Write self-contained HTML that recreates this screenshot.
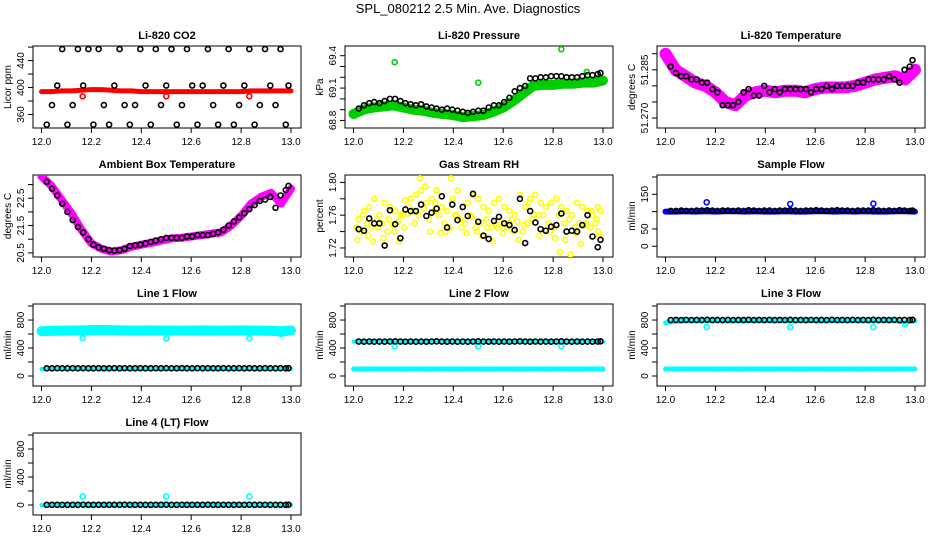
<!DOCTYPE html>
<html><head><meta charset="utf-8"><style>
html,body{margin:0;padding:0;background:#fff;}
svg{display:block;font-family:"Liberation Sans",Arial,sans-serif;}
</style></head><body>
<svg id="chart" width="936" height="540" viewBox="0 0 936 540" xmlns="http://www.w3.org/2000/svg">
<rect width="936" height="540" fill="#fff"/>
<text x="468" y="13" text-anchor="middle" font-size="13">SPL_080212  2.5 Min. Ave. Diagnostics</text>
</svg>
<script>
const T48=[12.021,12.042,12.063,12.083,12.104,12.125,12.146,12.167,12.188,12.208,12.229,12.25,12.271,12.292,12.313,12.333,12.354,12.375,12.396,12.417,12.438,12.458,12.479,12.5,12.521,12.542,12.563,12.583,12.604,12.625,12.646,12.667,12.688,12.708,12.729,12.75,12.771,12.792,12.813,12.833,12.854,12.875,12.896,12.917,12.938,12.958,12.979,12.99];
const T26=[12.00,12.04,12.08,12.12,12.16,12.20,12.24,12.28,12.32,12.36,12.40,12.44,12.48,12.52,12.56,12.60,12.64,12.68,12.72,12.76,12.80,12.84,12.88,12.92,12.96,13.00];
const xTicks=[12.0,12.2,12.4,12.6,12.8,13.0];
const xTickLabels=["12.0","12.2","12.4","12.6","12.8","13.0"];
const outT=[12.165,12.5,12.833];

const co2Black=[345,374,403,457,345,374,457,403,457,345,457,374,345,403,457,374,345,374,457,403,345,457,374,403,457,345,374,457,403,345,403,457,374,345,403,457,345,374,403,457,345,374,457,403,374,457,345,403];
const co2Red=[394,394,395,395,396,397,397,396,395,395,394,394,394,394,394,394,394,394,394,394,394,395,395,395,395,395];
const co2Out=[387,387,387];

const presBlack=[68.91,68.94,68.96,68.97,68.96,68.98,69.00,69.00,68.98,68.96,68.95,68.94,68.95,68.93,68.92,68.91,68.90,68.91,68.90,68.89,68.88,68.87,68.88,68.89,68.89,68.92,68.94,68.94,68.97,69.01,69.07,69.10,69.12,69.19,69.19,69.20,69.20,69.21,69.21,69.21,69.20,69.20,69.20,69.21,69.22,69.22,69.23,69.24];
const presGreen=[68.86,68.90,68.92,68.93,68.94,68.92,68.90,68.89,68.87,68.86,68.85,68.83,68.84,68.85,68.88,68.92,68.98,69.05,69.12,69.13,69.13,69.14,69.14,69.15,69.15,69.17];
const presOutT=[12.165,12.5,12.833,12.935];
const presOut=[69.34,69.15,69.46,69.25];

const tempBlack=[51.286,51.284,51.283,51.283,51.282,51.282,51.281,51.281,51.279,51.278,51.274,51.274,51.274,51.275,51.278,51.279,51.277,51.277,51.280,51.278,51.279,51.278,51.279,51.279,51.279,51.279,51.279,51.278,51.279,51.279,51.280,51.279,51.280,51.280,51.280,51.280,51.281,51.281,51.282,51.282,51.282,51.282,51.283,51.282,51.281,51.285,51.286,51.288];
const tempMag=[51.290,51.285,51.283,51.281,51.280,51.278,51.275,51.274,51.277,51.278,51.2785,51.278,51.2785,51.2785,51.278,51.279,51.2795,51.2795,51.2795,51.280,51.281,51.282,51.2825,51.283,51.282,51.285];

const ambBlack=[23.1,22.85,22.6,22.3,22.0,21.7,21.45,21.25,21.0,20.8,20.7,20.65,20.6,20.58,20.6,20.65,20.75,20.78,20.8,20.85,20.9,20.95,21.0,21.05,21.05,21.05,21.05,21.1,21.1,21.15,21.15,21.15,21.2,21.25,21.35,21.5,21.65,21.8,21.95,22.1,22.25,22.4,22.45,22.55,22.15,22.6,22.8,22.95];
const ambMag=[23.3,22.95,22.45,21.95,21.35,20.85,20.65,20.55,20.6,20.72,20.8,20.87,20.95,21.03,21.05,21.1,21.15,21.2,21.25,21.5,21.85,22.3,22.55,22.7,22.3,22.85];

const rhA=[1.755,1.765,1.770,1.780,1.760,1.775,1.770,1.765,1.760,1.778,1.780,1.785,1.790,1.775,1.780,1.790,1.770,1.765,1.780,1.790,1.770,1.775,1.785,1.780,1.770,1.765,1.775,1.780,1.770,1.765,1.760,1.785,1.770,1.780,1.785,1.775,1.770,1.775,1.780,1.770,1.765,1.760,1.775,1.770,1.765,1.760,1.770,1.765];
const rhB=[1.745,1.740,1.750,1.745,1.755,1.750,1.740,1.748,1.752,1.760,1.762,1.765,1.760,1.768,1.755,1.765,1.760,1.750,1.745,1.760,1.755,1.750,1.760,1.745,1.750,1.755,1.745,1.748,1.750,1.745,1.755,1.752,1.740,1.750,1.755,1.760,1.760,1.750,1.745,1.760,1.750,1.755,1.745,1.750,1.748,1.745,1.750,1.740];
const rhC=[1.730,1.760,1.735,1.728,1.745,1.732,1.755,1.740,1.728,1.745,1.770,1.750,1.805,1.795,1.740,1.775,1.738,1.740,1.805,1.760,1.745,1.738,1.758,1.740,1.735,1.745,1.728,1.745,1.738,1.750,1.740,1.730,1.748,1.775,1.760,1.735,1.742,1.740,1.732,1.715,1.730,1.712,1.738,1.725,1.750,1.765,1.755,1.735];
const rhBlack=[1.743,1.741,1.756,1.750,1.750,1.723,1.766,1.749,1.732,1.767,1.765,1.765,1.773,1.759,1.763,1.768,1.783,1.745,1.773,1.754,1.770,1.759,1.786,1.752,1.735,1.731,1.753,1.758,1.750,1.748,1.742,1.780,1.726,1.765,1.751,1.743,1.741,1.746,1.748,1.762,1.740,1.741,1.740,1.748,1.760,1.734,1.721,1.730];

const sfBlue=[100,100,101,100,101,100,101,101,100,101,100,100,101,100,100,101,101,100,101,100,101,100,100,101,101,100];
const sfBlack=[102,102,103,102,102,103,103,104,103,102,103,103,102,103,102,104,103,102,103,103,102,103,103,104,103,102,103,103,104,103,102,103,104,103,103,102,103,103,103,104,103,102,103,102,104,103,102,103];
const sfOut=[127,122,123];

const l1Top=[640,645,648,650,652,655,658,655,652,650,650,652,650,650,648,650,652,650,648,650,652,650,648,645,640,650];
const l1Low=[100,100,101,100,101,100,101,100,100,101,100,100,101,100,100,101,100,100,101,100,100,101,100,100,101,100];
const l1Black=[110,110,111,110,110,111,110,112,110,110,111,110,110,111,110,112,110,110,111,110,110,111,110,112,110,110,111,110,110,111,110,112,110,110,111,110,110,111,110,112,110,110,111,110,110,111,110,112];
const l1OutT=[12.165,12.5,12.833,12.96];
const l1Out=[540,535,540,600];

const l2Band=[490,492,490,488,490,492,490,491,490,489,490,492,490,488,490,491,490,489,490,492,490,488,490,491,490,490];
const l2Low=[100,100,101,100,101,100,101,100,100,101,100,100,101,100,100,101,100,100,101,100,100,101,100,100,101,100];
const l2Black=[492,491,493,490,492,491,493,495,492,491,493,490,492,491,493,495,492,491,493,490,492,491,493,495,492,491,493,490,492,491,493,495,492,491,493,490,492,491,493,495,492,491,493,490,492,491,493,495];
const l2Out=[425,425,425];

const l3Band=[760,785,790,792,790,790,788,790,792,790,790,788,790,792,790,790,788,790,792,790,790,788,790,792,770,790];
const l3Low=[100,100,101,100,101,100,101,100,100,101,100,100,101,100,100,101,100,100,101,100,100,101,100,100,101,100];
const l3Black=[800,801,800,802,800,801,800,803,800,801,800,802,800,801,800,803,800,801,800,802,800,801,800,803,800,801,800,802,800,801,800,803,800,801,800,802,800,801,800,803,800,801,800,802,800,801,800,803];
const l3OutT=[12.165,12.5,12.833,12.96];
const l3Out=[700,700,700,740];

const l4Band=[0,1,0,0,1,0,0,1,0,0,1,0,0,1,0,0,1,0,0,1,0,0,1,0,0,1];
const l4Black=[2,2,3,2,2,3,2,4,2,2,3,2,2,3,2,4,2,2,3,2,2,3,2,4,2,2,3,2,2,3,2,4,2,2,3,2,2,3,2,4,2,2,3,2,2,3,2,4];
const l4Out=[120,120,120];

const NS="http://www.w3.org/2000/svg";
const svg=document.getElementById('chart');
function el(tag,parent){const e=document.createElementNS(NS,tag);parent.appendChild(e);return e;}

function panel(col,row,title,ylab,ymin,ymax,ticks,labels,key){
  const x0=col*312,y0=row*129;
  const g=el('g',svg);
  
  
  const sx=v=>x0+41.5+(v-12)*249.5;
  const sy=v=>y0+128-(v-ymin)/(ymax-ymin)*82;
  const t=el('text',g);
  
  
  t.setAttribute('x',x0+167);t.setAttribute('y',y0+39);t.setAttribute('text-anchor','middle');
  t.setAttribute('font-size','11');t.setAttribute('font-weight','bold');t.textContent=title;
  const b=el('rect',g);
  
  
  b.setAttribute('x',x0+33);b.setAttribute('y',y0+46);b.setAttribute('width',268);b.setAttribute('height',82);
  b.setAttribute('fill','none');b.setAttribute('stroke','#000');b.setAttribute('stroke-width','1');
  xTicks.forEach((v,i)=>{
    const l=el('line',g);
    
    
    l.setAttribute('x1',sx(v));l.setAttribute('x2',sx(v));l.setAttribute('y1',y0+128);l.setAttribute('y2',y0+133);l.setAttribute('stroke','#000');
    const tx=el('text',g);
    
    
    tx.setAttribute('x',sx(v));tx.setAttribute('y',y0+145);tx.setAttribute('text-anchor','middle');tx.setAttribute('font-size','10');
    tx.textContent=xTickLabels[i];
  });
  ticks.forEach((v,i)=>{
    const l=el('line',g);
    
    
    l.setAttribute('x1',x0+28);l.setAttribute('x2',x0+33);l.setAttribute('y1',sy(v));l.setAttribute('y2',sy(v));l.setAttribute('stroke','#000');
    if(labels[i]){
      const tx=el('text',g);
      
      
      tx.setAttribute('transform','translate('+(x0+24)+','+sy(v)+') rotate(-90)');
      tx.setAttribute('text-anchor','middle');tx.setAttribute('font-size','10');
      tx.textContent=labels[i];
    }
  });
  const yt=el('text',g);
  
  
  yt.setAttribute('transform','translate('+(x0+11)+','+(y0+87)+') rotate(-90)');
  yt.setAttribute('text-anchor','middle');yt.setAttribute('font-size','10');yt.textContent=ylab;
  const clip=el('clipPath',g);clip.setAttribute('id','c'+key);
  const cr=el('rect',clip);cr.setAttribute('x',x0+33);cr.setAttribute('y',y0+46);cr.setAttribute('width',268);cr.setAttribute('height',82);
  const d=el('g',g);d.setAttribute('clip-path','url(#c'+key+')');
  return {sx,sy,g:d};
}
function band(p,xs,ys,color,w,name){
  const pl=el('polyline',p.g);
  
  
  pl.setAttribute('points',xs.map((x,i)=>p.sx(x)+','+p.sy(ys[i])).join(' '));
  pl.setAttribute('fill','none');pl.setAttribute('stroke',color);pl.setAttribute('stroke-width',w);pl.setAttribute('stroke-linejoin','round');pl.setAttribute('stroke-linecap','round');
}
function pts(p,xs,ys,color,name){
  xs.forEach((x,i)=>{
    const c=el('circle',p.g);
    
    
    c.setAttribute('cx',p.sx(x));c.setAttribute('cy',p.sy(ys[i]));c.setAttribute('r',2.5);
    c.setAttribute('fill','none');c.setAttribute('stroke',color);c.setAttribute('stroke-width',1.6);
  });
}
const flowTicks=[0,200,400,600,800,1000],flowLabels=["0","","400","","800",""];

let p=panel(0,0,'Li-820 CO2','Licor ppm',340,461.6,[360,380,400,420,440,460],["360","","400","","440",""],'co2');
band(p,T26,co2Red,'#f00',5,'co2-red-band');pts(p,outT,co2Out,'#f00','co2-red-outlier');pts(p,T48,co2Black,'#000','co2-black-point');

p=panel(1,0,'Li-820 Pressure','kPa',68.73,69.49,[68.8,68.9,69.0,69.1,69.2,69.3,69.4],["68.8","","","69.1","","","69.4"],'pressure');
band(p,T26,presGreen,'#00cd00',10,'pressure-green-band');pts(p,presOutT,presOut,'#00cd00','pressure-green-outlier');pts(p,T48,presBlack,'#000','pressure-black-point');

p=panel(2,0,'Li-820 Temperature','degrees C',51.2669,51.2924,[51.270,51.275,51.280,51.285,51.290],["51.270","","","51.285",""],'temperature');
band(p,T26,tempMag,'#f0f',12,'temperature-magenta-band');pts(p,T48,tempBlack,'#000','temperature-black-point');

p=panel(0,1,'Ambient Box Temperature','degrees C',20.35,23.35,[20.5,21,21.5,22,22.5,23],["20.5","","21.5","","22.5",""],'ambient');
band(p,T26,ambMag,'#f0f',8,'ambient-magenta-band');pts(p,T48,ambBlack,'#000','ambient-black-point');

p=panel(1,1,'Gas Stream RH','percent',1.709,1.809,[1.72,1.74,1.76,1.78,1.80],["1.72","","1.76","","1.80"],'rh');
pts(p,T48,rhA,'#ff0','rh-yellow-point');pts(p,T48.map(t=>t-0.01),rhB,'#ff0','rh-yellow-point');pts(p,T48.map(t=>t-0.005),rhC,'#ff0','rh-yellow-point');pts(p,T48,rhBlack,'#000','rh-black-point');

p=panel(2,1,'Sample Flow','ml/min',-31,205.7,[0,50,100,150,200],["0","50","","150",""],'sampleflow');
band(p,T26,sfBlue,'#00f',6,'sampleflow-blue-band');pts(p,outT,sfOut,'#00f','sampleflow-blue-outlier');pts(p,T48,sfBlack,'#000','sampleflow-black-point');

p=panel(0,2,'Line 1 Flow','ml/min',-143,1029,flowTicks,flowLabels,'line1');
band(p,T26,l1Top,'#0ff',10,'line1-cyan-band');band(p,T26,l1Low,'#0ff',4,'line1-cyan-low-band');pts(p,l1OutT,l1Out,'#0ff','line1-cyan-outlier');pts(p,T48,l1Black,'#000','line1-black-point');

p=panel(1,2,'Line 2 Flow','ml/min',-143,1029,flowTicks,flowLabels,'line2');
band(p,T26,l2Band,'#0ff',4,'line2-cyan-band');band(p,T26,l2Low,'#0ff',5,'line2-cyan-low-band');pts(p,outT,l2Out,'#0ff','line2-cyan-outlier');pts(p,T48,l2Black,'#000','line2-black-point');

p=panel(2,2,'Line 3 Flow','ml/min',-143,1029,flowTicks,flowLabels,'line3');
band(p,T26,l3Band,'#0ff',5,'line3-cyan-band');band(p,T26,l3Low,'#0ff',5,'line3-cyan-low-band');pts(p,l3OutT,l3Out,'#0ff','line3-cyan-outlier');pts(p,T48,l3Black,'#000','line3-black-point');

p=panel(0,3,'Line 4 (LT) Flow','ml/min',-143,1029,flowTicks,flowLabels,'line4');
band(p,T26,l4Band,'#0ff',4,'line4-cyan-band');pts(p,outT,l4Out,'#0ff','line4-cyan-outlier');pts(p,T48,l4Black,'#000','line4-black-point');
</script>
</body></html>
